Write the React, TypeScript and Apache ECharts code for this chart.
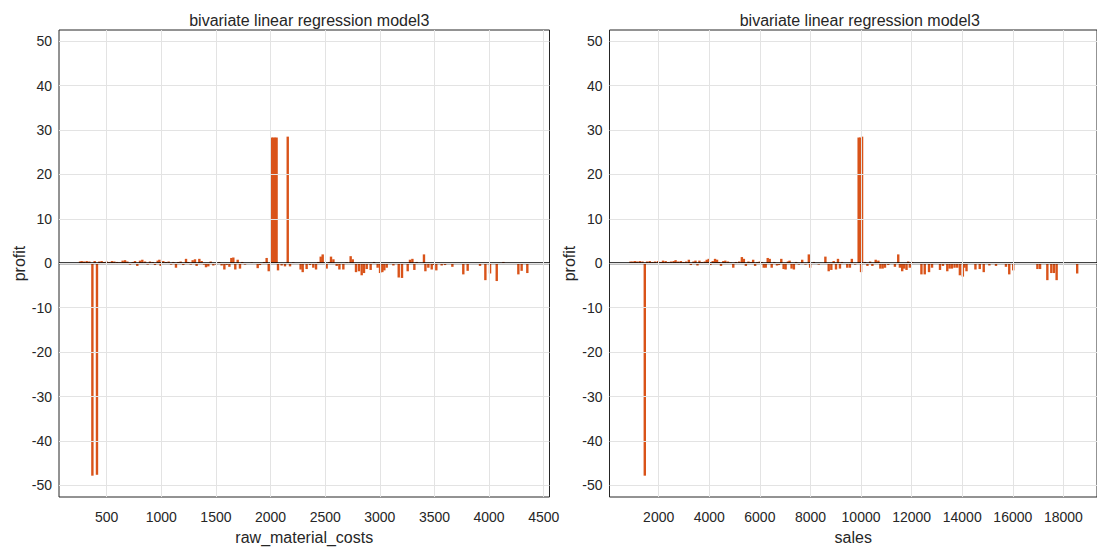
import React, { useEffect, useRef } from "react";
import * as echarts from "echarts";

// ---- data ----
const rawMaterialCosts = [
  256, 271, 292, 317, 341, 369, 390, 411, 433, 454, 475, 500, 524, 548, 570, 597, 622, 646, 668, 689,
  713, 738, 759, 780, 805, 826, 851, 875, 896, 921, 942, 967, 982, 994, 1018, 1043, 1067, 1089, 1110, 1134,
  1156, 1177, 1201, 1226, 1247, 1269, 1287, 1308, 1323, 1348, 1369, 1391, 1409, 1430, 1452, 1476, 1501, 1531, 1552, 1577,
  1598, 1623, 1641, 1659, 1677, 1699, 1720, 1741, 1766, 1827, 1882, 1903, 1940, 1964, 1983, 2010, 2025, 2040, 2055, 2068,
  2101, 2132, 2157, 2178, 2208, 2275, 2294, 2330, 2361, 2391, 2416, 2437, 2459, 2477, 2513, 2538, 2553, 2575, 2605, 2630,
  2666, 2697, 2733, 2752, 2782, 2809, 2834, 2855, 2880, 2916, 2947, 2980, 3002, 3023, 3041, 3063, 3124, 3173, 3203, 3255,
  3276, 3298, 3316, 3337, 3404, 3417, 3444, 3475, 3496, 3517, 3566, 3597, 3664, 3764, 3804, 3917, 3966, 4009, 4070, 4131,
  4268, 4298, 4350,
];
const residualsByCost = [
  0.4, 0.5, 0.4, 0.5, 0.4, -47.8, 0.5, -47.6, 0.4, 0.5, 0.3, 0.4, 0.3, 0.5, 0.4, 0.3, 0.2, 0.6, 0.7, 0.4,
  -0.3, 0.3, 0.5, -0.6, 0.6, 0.8, 0.4, -0.3, 0.4, 0.3, -0.4, 0.6, 0.8, -0.6, 0.5, 0.3, 0.4, -0.3, 0.3, -1.0,
  0.3, 0.4, -0.4, 1.0, 0.3, -0.3, 0.7, 0.9, -0.6, 1.0, 0.5, -0.3, -0.9, -0.7, 0.4, -0.5, -0.3, 0.3, -0.5, -1.4,
  -0.4, -0.8, 1.2, 1.3, -1.4, 0.8, -1.2, 0.3, -0.3, 0.2, -1.1, -0.4, 0.3, 1.2, -1.8, 28.3, 28.3, 28.3, 28.3, -1.6,
  -0.5, -0.7, 28.5, -0.7, 0.2, -1.4, -2.0, -1.3, -0.4, -1.0, -1.4, 0.3, 1.5, 2.0, -1.2, 0.3, 1.5, 0.9, -0.6, -1.4,
  -1.4, 0.2, 1.6, 0.9, -2.0, -1.8, -2.7, -2.2, -1.3, -1.5, 0.3, -1.0, -2.2, -2.0, -1.6, -1.0, -0.5, -3.2, -3.3, -1.8,
  0.8, 1.0, -1.5, 0.3, 2.0, -1.8, -1.0, -1.4, -0.4, -1.6, -0.5, -0.4, -0.8, -2.5, -1.7, -0.6, -3.8, -2.3, -4.0, 0.3,
  -2.5, -1.7, -2.2,
];

const sales = [
  887, 965, 1057, 1149, 1254, 1358, 1450, 1542, 1647, 1751, 1856, 1974, 2079, 2171, 2275, 2380, 2485, 2590, 2668, 2773,
  2878, 2983, 3088, 3192, 3271, 3376, 3454, 3533, 3611, 3716, 3821, 3900, 3978, 4044, 4136, 4227, 4306, 4384, 4463, 4555,
  4633, 4738, 4843, 4948, 5052, 5183, 5288, 5367, 5446, 5550, 5642, 5734, 5812, 5904, 5996, 6074, 6153, 6231, 6310, 6389,
  6467, 6572, 6677, 6755, 6847, 6939, 7017, 7109, 7175, 7253, 7345, 7437, 7542, 7673, 7804, 7935, 7987, 8131, 8328, 8590,
  8721, 8825, 8917, 9009, 9088, 9166, 9245, 9454, 9559, 9636, 9767, 9905, 9965, 10000, 10040, 10160, 10252, 10357, 10448, 10579,
  10684, 10763, 10854, 10946, 11077, 11339, 11470, 11536, 11627, 11706, 11798, 11863, 11929, 12020, 12387, 12518, 12688, 12806, 13121, 13238,
  13409, 13500, 13592, 13697, 13802, 13907, 14025, 14090, 14169, 14522, 14693, 14850, 15073, 15335, 15728, 15859, 16016, 16972, 17077, 17365,
  17522, 17627, 17732, 18544,
];
const residualsBySales = [
  0.4, 0.4, 0.5, 0.4, 0.5, 0.4, -47.8, 0.4, 0.5, 0.3, 0.4, 0.5, 0.3, 0.6, 0.5, 0.3, 0.4, 0.5, 0.7, 0.4,
  0.5, 0.3, 0.4, 0.8, -0.4, 0.4, 0.6, -0.5, 0.6, 0.3, 0.4, 0.8, 1.0, -0.4, 0.5, 1.0, 0.8, 0.3, -0.6, 0.5,
  0.6, 0.4, 0.2, -1.0, 0.3, 0.4, 1.4, 1.0, -0.6, 0.4, 0.3, 0.8, -0.6, 0.3, 0.4, 0.3, -1.0, -1.0, 1.2, 1.0,
  -1.0, 0.3, -0.5, -0.4, 1.0, -1.3, -1.4, 0.4, 0.6, -1.2, -1.4, 0.3, -0.3, 0.8, -0.3, 2.0, -1.0, 0.3, -0.3, 1.5,
  -1.8, -1.5, 0.5, -1.4, 1.0, -1.2, 0.3, -1.0, -1.0, 1.0, -0.3, 28.3, 28.3, -2.0, 28.5, 0.3, -0.6, 0.4, -0.6, 0.8,
  0.6, -1.2, -1.2, -1.0, -0.4, -0.8, 2.0, -1.0, -1.8, -1.2, -1.5, 0.4, -1.0, 0.3, -2.5, -2.5, -2.0, -1.0, -1.5, -0.6,
  -1.8, -1.2, -1.2, -1.0, -1.0, -2.7, -3.0, -1.0, -1.8, -1.4, -1.3, -2.0, -0.5, -0.6, -0.8, -2.5, -1.6, -1.3, -1.3, -3.8,
  -2.2, -2.2, -3.8, -2.3,
];

const costTicks = [500, 1000, 1500, 2000, 2500, 3000, 3500, 4000, 4500];
const salesTicks = [2000, 4000, 6000, 8000, 10000, 12000, 14000, 16000, 18000];
const profitTicks = [-50, -40, -30, -20, -10, 0, 10, 20, 30, 40, 50];

const titleText = "bivariate linear regression model3";
const yName = "profit";

// ---- styling ----
const FONT = "Liberation Sans, Arial, Helvetica, sans-serif";
const TXT = "#262626";
const GRIDC = "#E3E3E3";
const BAR = "#D95319";
const Y_MIN = -52.6;
const Y_MAX = 52.5;

type Panel = {
  xs: number[];
  ys: number[];
  xMin: number;
  xMax: number;
  xTicks: number[];
  xName: string;
  left: number;
};

const panels: Panel[] = [
  { xs: rawMaterialCosts, ys: residualsByCost, xMin: 63.4, xMax: 4553, xTicks: costTicks, xName: "raw_material_costs", left: 59 },
  { xs: sales, ys: residualsBySales, xMin: 55, xMax: 19328, xTicks: salesTicks, xName: "sales", left: 609.5 },
];

const PW = 490.5;
const PT = 30;
const PH = 472;

function buildOption() {
  const grid: any[] = [];
  const xAxis: any[] = [];
  const yAxis: any[] = [];
  const series: any[] = [];
  const title: any[] = [];

  panels.forEach((p, i) => {
    grid.push({
      left: p.left,
      top: PT,
      width: PW,
      height: PH,
      show: true,
      borderColor: TXT,
      borderWidth: 1,
      backgroundColor: "#ffffff",
      containLabel: false,
    });
    title.push({
      text: titleText,
      left: p.left + PW / 2,
      top: 7,
      textAlign: "center",
      textStyle: { fontFamily: FONT, fontSize: 16, fontWeight: "normal", color: TXT },
    });
    const tickStyle = { show: true, inside: true, length: 5, lineStyle: { color: TXT, width: 1 } };
    // bottom x
    xAxis.push({
      type: "value",
      gridIndex: i,
      position: "bottom",
      min: p.xMin,
      max: p.xMax,
      name: p.xName,
      nameLocation: "middle",
      nameGap: 32,
      nameTextStyle: { fontFamily: FONT, fontSize: 16, color: TXT },
      axisLine: { show: false },
      axisTick: { ...tickStyle, customValues: p.xTicks },
      axisLabel: {
        customValues: p.xTicks,
        formatter: (v: number) => String(v),
        fontFamily: FONT,
        fontSize: 14,
        color: TXT,
        margin: 13,
      },
      splitLine: { show: false },
    });
    // top x (ticks only)
    xAxis.push({
      type: "value",
      gridIndex: i,
      position: "top",
      min: p.xMin,
      max: p.xMax,
      axisLine: { show: false },
      axisTick: { ...tickStyle, customValues: p.xTicks },
      axisLabel: { show: false },
      splitLine: { show: false },
    });
    // left y
    yAxis.push({
      type: "value",
      gridIndex: i,
      position: "left",
      min: Y_MIN,
      max: Y_MAX,
      name: yName,
      nameLocation: "middle",
      nameGap: 32,
      nameTextStyle: { fontFamily: FONT, fontSize: 16, color: TXT },
      axisLine: { show: false },
      axisTick: { ...tickStyle, customValues: profitTicks },
      axisLabel: {
        customValues: profitTicks,
        formatter: (v: number) => String(v),
        fontFamily: FONT,
        fontSize: 14,
        color: TXT,
        margin: 7,
      },
      splitLine: { show: false },
    });
    // right y (ticks only)
    yAxis.push({
      type: "value",
      gridIndex: i,
      position: "right",
      min: Y_MIN,
      max: Y_MAX,
      axisLine: { show: false },
      axisTick: { ...tickStyle, customValues: profitTicks },
      axisLabel: { show: false },
      splitLine: { show: false },
    });

    const xi = i * 2;
    const yi = i * 2;
    // grid lines via markLine on an invisible helper
    series.push({
      type: "line",
      xAxisIndex: xi,
      yAxisIndex: yi,
      data: [
        [p.xMin, 0],
        [p.xMax, 0],
      ],
      symbol: "none",
      lineStyle: { opacity: 0 },
      silent: true,
      z: 1,
      markLine: {
        silent: true,
        symbol: ["none", "none"],
        label: { show: false },
        lineStyle: { color: GRIDC, width: 1, type: "solid" },
        emphasis: { disabled: true },
        data: [
          ...p.xTicks.map((v) => ({ xAxis: v })),
          ...profitTicks.map((v) => ({ yAxis: v })),
        ],
      },
    });
    series.push({
      type: "bar",
      xAxisIndex: xi,
      yAxisIndex: yi,
      barWidth: 2.4,
      itemStyle: { color: BAR },
      data: p.xs.map((x, k) => [x, p.ys[k]]),
      z: 2,
      silent: true,
    });
    series.push({
      type: "line",
      xAxisIndex: xi,
      yAxisIndex: yi,
      data: [
        [p.xMin, 0],
        [p.xMax, 0],
      ],
      symbol: "none",
      lineStyle: { color: "#000000", width: 2 },
      silent: true,
      z: 3,
    });
  });

  return {
    animation: false,
    backgroundColor: "#ffffff",
    textStyle: { fontFamily: FONT },
    title,
    grid,
    xAxis,
    yAxis,
    series,
  };
}

export default function App() {
  const ref = useRef<HTMLDivElement>(null);
  useEffect(() => {
    if (!ref.current) return;
    const chart = echarts.init(ref.current, null, { renderer: "svg" });
    chart.setOption(buildOption() as any);
    return () => chart.dispose();
  }, []);
  return (
    <div
      ref={ref}
      style={{ position: "fixed", left: 0, top: 0, width: 1097, height: 550, background: "#fff" }}
    />
  );
}
